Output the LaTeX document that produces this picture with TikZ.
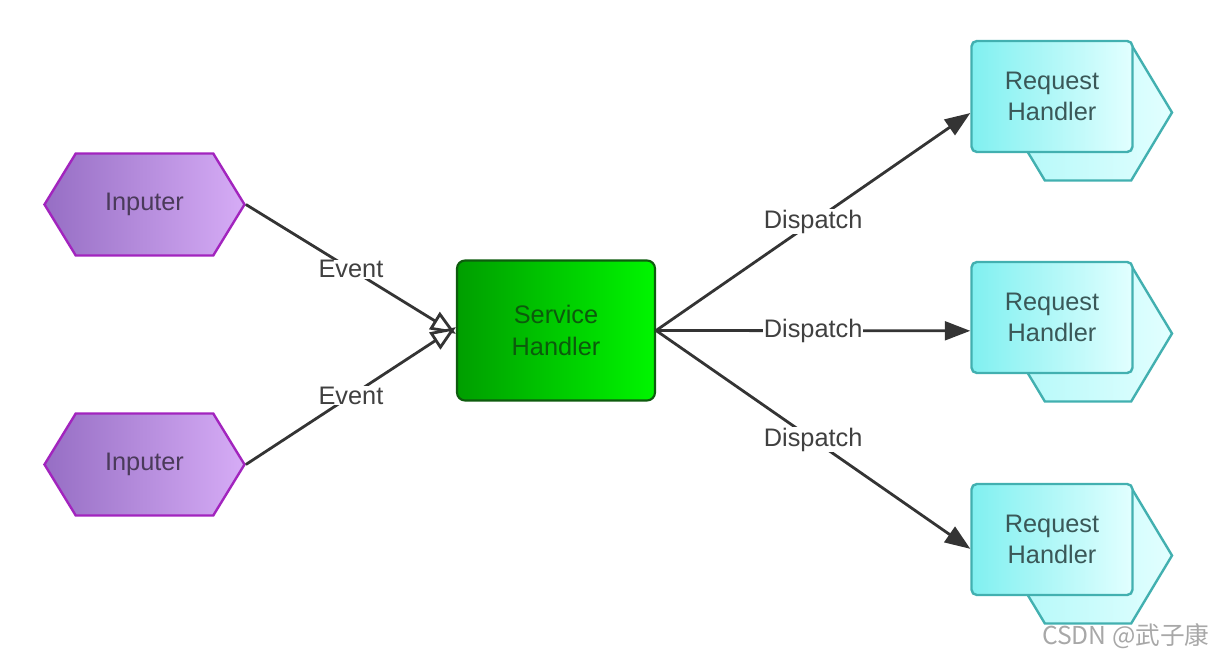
\documentclass[tikz,border=0pt]{standalone}
\usepackage{fontspec}
\setmainfont{Liberation Sans}
\newfontfamily\cjk{Noto Sans CJK SC}
\usetikzlibrary{shapes.symbols,arrows.meta}

\definecolor{inpdark}{RGB}{150,110,196}
\definecolor{inplight}{RGB}{214,172,246}
\definecolor{inpborder}{RGB}{162,36,190}
\definecolor{srvdark}{RGB}{0,158,0}
\definecolor{srvlight}{RGB}{0,246,0}
\definecolor{srvborder}{RGB}{14,92,14}
\definecolor{reqdark}{RGB}{128,240,240}
\definecolor{reqlight}{RGB}{226,255,255}
\definecolor{reqborder}{RGB}{66,176,176}
\definecolor{linegray}{RGB}{52,52,52}

\tikzset{every picture/.style={line width=0.75pt},
  txt/.style={font=\fontsize{19}{23.5}\selectfont, align=center},
  inputer/.style={txt, signal, signal to=west and east, signal pointer angle=117,
    minimum width=150pt, minimum height=76.5pt, inner sep=0pt,
    left color=inpdark, right color=inplight, draw=inpborder, line width=1.8pt,
    text={rgb,255:red,74;green,58;blue,90}},
  service/.style={txt, rectangle, rounded corners=6pt, minimum width=148.5pt, minimum height=105pt,
    left color=srvdark, right color=srvlight, draw=srvborder, line width=1.6pt,
    text={rgb,255:red,12;green,90;blue,12}},
  reqback/.style={signal, signal to=west and east, signal pointer angle=118,
    minimum width=126pt, minimum height=102pt, inner sep=0pt,
    left color={rgb,255:red,176;green,248;blue,248}, right color=reqlight,
    draw=reqborder, line width=1.8pt},
  reqfront/.style={txt, rectangle, rounded corners=4pt, minimum width=120.75pt, minimum height=83.25pt,
    left color=reqdark, right color=reqlight, draw=reqborder, line width=1.8pt,
    text={rgb,255:red,58;green,88;blue,88}},
  conn/.style={draw=linegray, line width=2.1pt},
  lbl/.style={txt, fill=white, inner sep=0.5pt, text={rgb,255:red,64;green,64;blue,64}}
}

\begin{document}
\begin{tikzpicture}[x=0.75pt,y=0.75pt,yscale=-1,xscale=1]
        \useasboundingbox (0,0) rectangle (1214,656);

        % Request Handler (back)
        \node [reqback] (reqAback) at (1088,112.5) {};
        \node [reqback] (reqBback) at (1088,333.5) {};
        \node [reqback] (reqCback) at (1088,555.5) {};
        % Request Handler (front)
        \node [reqfront] (reqA) at (1052,96.5) {Request\\Handler};
        \node [reqfront] (reqB) at (1052,317.5) {Request\\Handler};
        \node [reqfront] (reqC) at (1052,539.5) {Request\\Handler};

        % Service Handler
        \node [service] (service) at (556,330.5) {Service\\Handler};

        % Inputer
        \node [inputer] (inputerA) at (144.5,204.5) {Inputer};
        \node [inputer] (inputerB) at (144.5,464.5) {Inputer};

        %Event lines (yshift points down here, yscale=-1)
        \draw [conn, -{Triangle[open, fill=white, length=19pt, width=15pt]}] (inputerA.east) -- node [lbl] {Event} ([yshift=2.5pt]service.west);
        \draw [conn, -{Triangle[open, fill=white, length=19pt, width=15pt]}] (inputerB.east) -- node [lbl] {Event} ([yshift=-2.5pt]service.west);

        %Dispatch lines
        \draw [conn, -{Triangle[length=19pt, width=14pt]}] (service.east) -- node [lbl] {Dispatch} ([yshift=12.4pt]reqA.west);
        \draw [conn, -{Triangle[length=19pt, width=14pt]}] (service.east) -- node [lbl] {Dispatch} ([yshift=10pt]reqB.west);
        \draw [conn, -{Triangle[length=19pt, width=14pt]}] (service.east) -- node [lbl] {Dispatch} ([yshift=7pt]reqC.west);

        % Text Node
        \node [anchor=east, inner sep=0pt, font=\cjk\fontsize{18.5}{22}\selectfont, text={rgb,255:red,168;green,168;blue,168}] (mark) at (1210,636) {CSDN @武子康};

\end{tikzpicture}
\end{document}
